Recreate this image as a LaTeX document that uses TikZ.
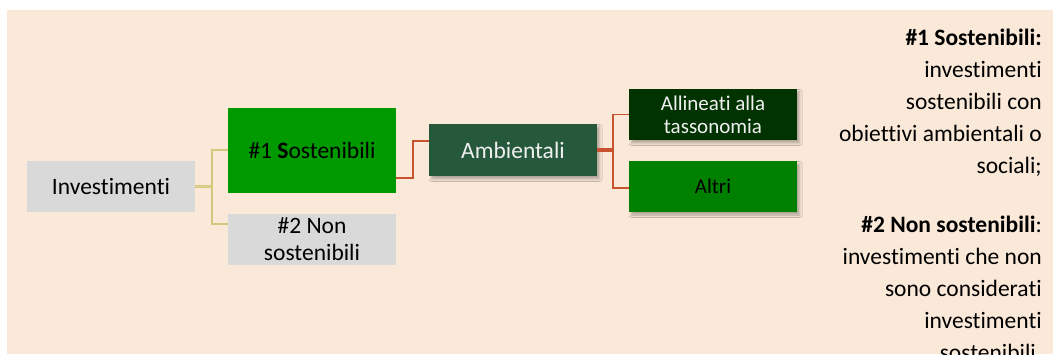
\documentclass[tikz,border=0pt]{standalone}
\usepackage{fontspec}
\setmainfont{Carlito}[Ligatures={NoCommon}]
\usetikzlibrary{positioning, calc, shadows.blur}

\definecolor{bgbeige}{RGB}{250,232,216}
\definecolor{boxgray}{RGB}{217,217,217}
\definecolor{sustgreen}{RGB}{0,153,0}
\definecolor{ambgreen}{RGB}{38,88,60}
\definecolor{aligngreen}{RGB}{0,51,0}
\definecolor{altrigreen}{RGB}{0,128,0}
\definecolor{khaki}{RGB}{212,198,122}
\definecolor{redline}{RGB}{201,82,48}

\begin{document}
\begin{tikzpicture}[
    x=1pt, y=-1pt,
    % Styles
    box/.style={inner sep=0pt, minimum width=168pt, minimum height=51pt, align=center,
        font=\fontsize{23.5}{27}\selectfont},
    graybox/.style={box, fill=boxgray},
    shadowbox/.style={box, blur shadow={shadow xshift=2.5pt, shadow yshift=-3pt,
        shadow blur radius=2.5pt, shadow opacity=30}},
    yline/.style={draw=khaki, line width=1.5pt},
    rline/.style={draw=redline, line width=1.5pt},
    sidetext/.style={inner sep=0pt, align=right, font=\fontsize{23.5}{32}\selectfont},
]
    % Background
    \useasboundingbox (0,0) rectangle (1053,355);
    \fill[bgbeige] (7,10) rectangle (1053,354);

    % Investments tree
    \node[graybox] (inv) at (111,186.5) {Investimenti};
    \node[box, fill=sustgreen, minimum height=85pt] (sust) at (312,150.5) {\#1 \textbf{S}ostenibili};
    \node[graybox] (nonsust) at (312,239.5) {\#2 Non\\sostenibili};

    % Environmental branch
    \node[shadowbox, fill=ambgreen, minimum height=52pt, text=white!94!black] (amb) at (513,150) {Ambientali};
    \node[shadowbox, fill=aligngreen, text=white!94!black,
        font=\fontsize{21}{23}\selectfont] (align) at (713,114.5) {Allineati alla\\tassonomia};
    \node[shadowbox, fill=altrigreen, font=\fontsize{21}{23}\selectfont] (altri) at (713,186.5) {Altri};

    % Connectors from Investimenti
    \draw[yline, line width=1.1pt, double=khaki!60!bgbeige, double distance=1pt]
        (inv.east) -- ([xshift=17pt]inv.east) coordinate (jinv);
    \draw[yline] ([yshift=0.5pt]sust.west) -| (jinv) |- ([yshift=15.5pt]nonsust.west);

    % Connector to Ambientali
    \draw[rline] ([yshift=-27.5pt]sust.east) -- ++(17,0) |- ([yshift=9pt]amb.west);

    % Connectors from Ambientali
    \draw[rline, line width=4pt] (amb.east) -- ([xshift=16pt]amb.east) coordinate (jamb);
    \draw[rline] (align.west) -| (jamb) |- ([yshift=-1.5pt]altri.west);

    % Legend on the right
    \node[sidetext, anchor=north east] (legend) at (1042,29) {%
        \textbf{\#1 Sostenibili:}\\
        investimenti\\
        sostenibili con\\
        obiettivi ambientali o\\
        sociali;\\[27pt]
        \textbf{\#2 Non sostenibili}:\\
        investimenti che non\\
        sono considerati\\
        investimenti\\
        sostenibili.};
\end{tikzpicture}
\end{document}
